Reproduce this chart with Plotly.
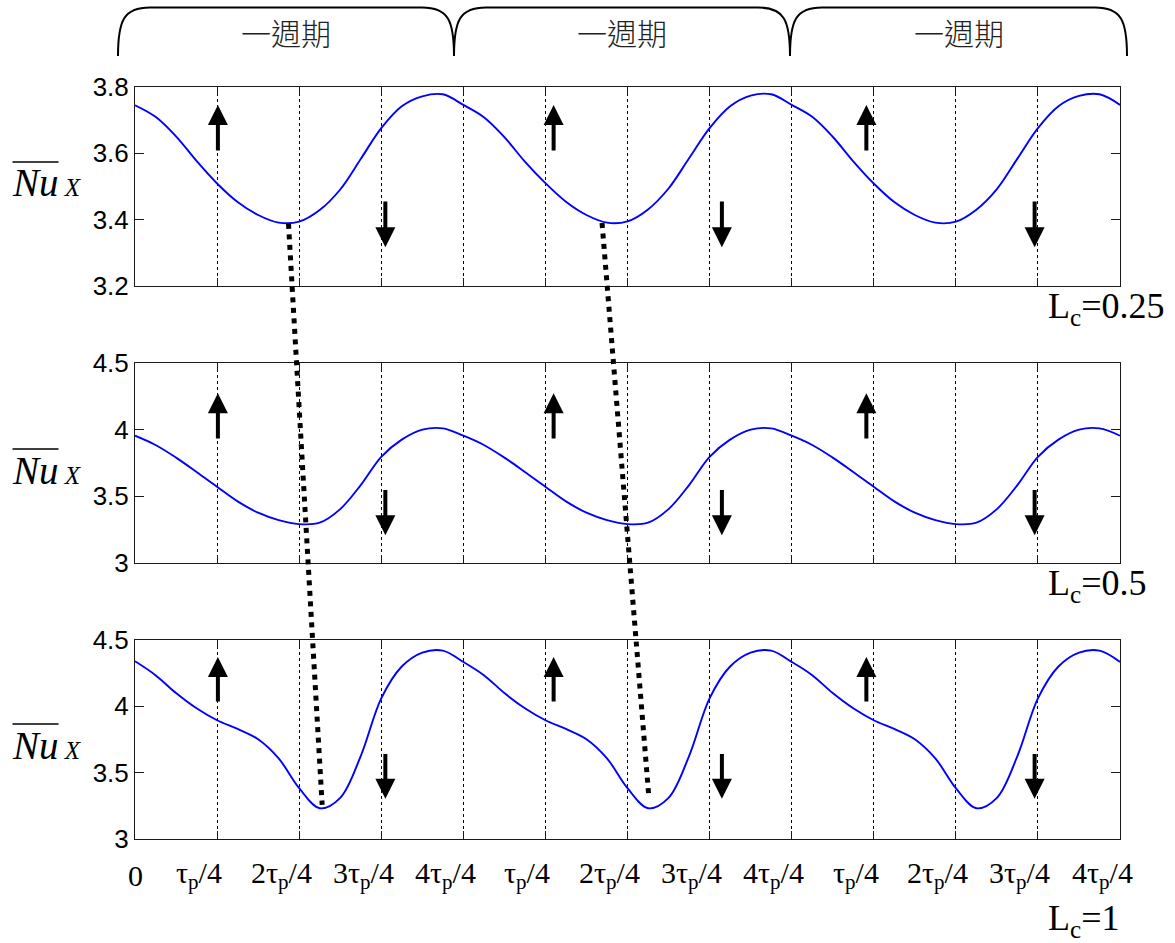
import plotly.graph_objects as go

# ---------------- data ----------------
X = [0.0, 0.25, 0.5, 0.75, 1.0, 1.25, 1.5, 1.75, 2.0, 2.25, 2.5, 2.75, 3.0, 3.25, 3.5, 3.75,
     4.0, 4.25, 4.5, 4.75, 5.0, 5.25, 5.5, 5.75, 6.0, 6.25, 6.5, 6.75, 7.0, 7.25, 7.5, 7.75,
     8.0, 8.25, 8.5, 8.75, 9.0, 9.25, 9.5, 9.75, 10.0, 10.25, 10.5, 10.75, 11.0, 11.25, 11.5, 11.75,
     12.0]

NU_LC025 = [3.745, 3.710, 3.651, 3.577, 3.509, 3.453, 3.414, 3.391, 3.394, 3.429, 3.491, 3.583, 3.676, 3.742, 3.772, 3.778,
            3.746, 3.709, 3.649, 3.575, 3.510, 3.454, 3.414, 3.391, 3.395, 3.431, 3.494, 3.585, 3.676, 3.742, 3.774, 3.778,
            3.746, 3.710, 3.650, 3.576, 3.509, 3.453, 3.414, 3.391, 3.394, 3.430, 3.492, 3.584, 3.676, 3.742, 3.773, 3.778,
            3.746]

NU_LC05 = [3.955, 3.885, 3.790, 3.682, 3.570, 3.460, 3.375, 3.319, 3.289, 3.300, 3.402, 3.583, 3.796, 3.925, 4.000, 4.010,
           3.955, 3.885, 3.790, 3.682, 3.570, 3.460, 3.375, 3.319, 3.289, 3.300, 3.402, 3.583, 3.796, 3.925, 4.000, 4.010,
           3.955, 3.885, 3.790, 3.682, 3.570, 3.460, 3.375, 3.319, 3.289, 3.300, 3.402, 3.583, 3.796, 3.925, 4.000, 4.010,
           3.955]

NU_LC1 = [4.340, 4.235, 4.100, 3.985, 3.895, 3.830, 3.752, 3.608, 3.383, 3.232, 3.310, 3.625, 4.060, 4.300, 4.405, 4.420,
          4.335, 4.235, 4.100, 3.985, 3.895, 3.830, 3.752, 3.608, 3.383, 3.232, 3.310, 3.625, 4.060, 4.300, 4.405, 4.420,
          4.335, 4.235, 4.100, 3.985, 3.895, 3.830, 3.752, 3.608, 3.383, 3.232, 3.310, 3.625, 4.060, 4.300, 4.405, 4.420,
          4.335]

SERIES = [NU_LC025, NU_LC05, NU_LC1]
LC_LABELS = ["L<sub>c</sub>=0.25", "L<sub>c</sub>=0.5", "L<sub>c</sub>=1"]
Y_RANGES = [[3.2, 3.8], [3.0, 4.5], [3.0, 4.5]]
Y_TICKS = [[3.2, 3.4, 3.6, 3.8], [3, 3.5, 4, 4.5], [3, 3.5, 4, 4.5]]

X_TICK_POS = [0, 1, 2, 3, 4, 5, 6, 7, 8, 9, 10, 11, 12]
X_TICK_TEXT = ["0",
               "τ<sub>p</sub>/4", "2τ<sub>p</sub>/4", "3τ<sub>p</sub>/4", "4τ<sub>p</sub>/4",
               "τ<sub>p</sub>/4", "2τ<sub>p</sub>/4", "3τ<sub>p</sub>/4", "4τ<sub>p</sub>/4",
               "τ<sub>p</sub>/4", "2τ<sub>p</sub>/4", "3τ<sub>p</sub>/4", "4τ<sub>p</sub>/4"]
PERIOD_LABEL = "一週期"

# arrow annotations (x positions, tail/tip values per panel)
ARROW_UP_X = [1.01, 5.10, 8.91]
ARROW_DOWN_X = [3.05, 7.15, 10.96]
ARROW_UP_Y = [(3.604, 3.746), (3.922, 4.274), (4.026, 4.372)]
ARROW_DOWN_Y = [(3.459, 3.317), (3.558, 3.206), (3.652, 3.303)]

# dotted connectors: (x, value) in top panel -> (x, value) in bottom panel
CONNECTORS = [((1.87, 3.387), (2.28, 3.258)), ((5.69, 3.390), (6.26, 3.318))]

# ---------------- layout geometry ----------------
W, H = 1175, 943
ML, MR, MT, MB = 135, 55, 87, 104
PW, PH = W - ML - MR, H - MT - MB


def pxx(px):
    return (px - ML) / PW


def pxy(py):
    return (H - MB - py) / PH


DOMAINS = [[pxy(286.0), pxy(87.0)], [pxy(562.5), pxy(363.3)], [pxy(839.0), pxy(640.0)]]


def val2paper(v, panel):
    d = DOMAINS[panel]
    r = Y_RANGES[panel]
    return d[0] + (v - r[0]) / (r[1] - r[0]) * (d[1] - d[0])


fig = go.Figure()
LINE_C = "#1a1a1a"

for i, vals in enumerate(SERIES):
    sfx = "" if i == 0 else str(i + 1)
    fig.add_trace(go.Scatter(
        x=X, y=vals, mode="lines", xaxis="x" + sfx, yaxis="y" + sfx,
        line=dict(color="#0000ff", width=1.9, shape="spline", smoothing=1.0),
        showlegend=False, hoverinfo="skip"))
    fig.layout["xaxis" + sfx] = dict(
        domain=[0, 1], anchor="y" + sfx, range=[0, 12], tickvals=X_TICK_POS,
        showticklabels=False, ticks="inside", ticklen=8, tickcolor=LINE_C,
        showline=True, linecolor=LINE_C, linewidth=1, mirror="ticks",
        showgrid=True, gridcolor="#000000", gridwidth=1, griddash="3px,3px",
        zeroline=False, fixedrange=True)
    fig.layout["yaxis" + sfx] = dict(
        domain=DOMAINS[i], anchor="x" + sfx, range=Y_RANGES[i], tickvals=Y_TICKS[i],
        ticks="inside", ticklen=9, tickcolor=LINE_C,
        showline=True, linecolor=LINE_C, linewidth=1, mirror="ticks",
        showgrid=False, zeroline=False,
        tickfont=dict(family="Liberation Sans, Arial", size=26, color="#000000"))

annotations = []
shapes = []

# x tick labels below the bottom panel
for pos, txt in zip(X_TICK_POS, X_TICK_TEXT):
    annotations.append(dict(
        x=pos, xref="x3", y=pxy(875), yref="paper", text=txt, showarrow=False,
        xanchor="center", yanchor="middle", xshift=(0 if pos == 0 else -18),
        font=dict(family="Liberation Serif, Times New Roman", size=30, color="#000000")))

# Lc labels
LC_Y_PX = [308, 585, 920]
for lab, ypx in zip(LC_LABELS, LC_Y_PX):
    annotations.append(dict(
        x=pxx(1046), xref="paper", y=pxy(ypx), yref="paper", text=lab, showarrow=False,
        xanchor="left", yanchor="middle",
        font=dict(family="Liberation Serif, Times New Roman", size=36, color="#000000")))

# Nu_X labels with overline
NU_BASE_PX = [197, 484, 759]
for b in NU_BASE_PX:
    annotations.append(dict(
        x=pxx(10), xref="paper", y=pxy(b - 14), yref="paper",
        text="<i>Nu</i><span style='font-size:25px'>&nbsp;<i>X</i></span>",
        showarrow=False, xanchor="left", yanchor="middle",
        font=dict(family="Liberation Serif, Times New Roman", size=39, color="#000000")))
    shapes.append(dict(type="line", xref="paper", yref="paper",
                       x0=pxx(12.5), x1=pxx(58.5), y0=pxy(b - 35), y1=pxy(b - 35),
                       line=dict(color="#000000", width=1.6)))

# arrows
for i in range(3):
    sfx = "" if i == 0 else str(i + 1)
    for xa in ARROW_UP_X:
        tail, tip = ARROW_UP_Y[i]
        annotations.append(dict(x=xa, y=tip, ax=xa, ay=tail, xref="x" + sfx, yref="y" + sfx,
                                axref="x" + sfx, ayref="y" + sfx, text="", showarrow=True,
                                arrowhead=2, arrowsize=1.0, arrowwidth=4, arrowcolor="#000000",
                                standoff=0))
    for xa in ARROW_DOWN_X:
        tail, tip = ARROW_DOWN_Y[i]
        annotations.append(dict(x=xa, y=tip, ax=xa, ay=tail, xref="x" + sfx, yref="y" + sfx,
                                axref="x" + sfx, ayref="y" + sfx, text="", showarrow=True,
                                arrowhead=2, arrowsize=1.0, arrowwidth=4, arrowcolor="#000000",
                                standoff=0))

# dotted connectors across panels
for (x0, v0), (x1, v1) in CONNECTORS:
    shapes.append(dict(type="line", xref="x3", yref="paper",
                       x0=x0, y0=val2paper(v0, 0), x1=x1, y1=val2paper(v1, 2),
                       line=dict(color="#000000", width=5, dash="5px,5.5px"), layer="above"))

# braces "一週期"
BRACE_EDGES_PX = [118, 454, 790, 1127]
YB, YT = 56, 7.5
for a, b in zip(BRACE_EDGES_PX[:-1], BRACE_EDGES_PX[1:]):
    pts = [("M", a, YB), ("C", a, 20), ("", a + 6, YT), ("", a + 32, YT),
           ("L", b - 32, YT), ("C", b - 6, YT), ("", b, 20), ("", b, YB)]
    path = " ".join(f"{c}{pxx(px):.5f},{pxy(py):.5f}" for c, px, py in pts)
    shapes.append(dict(type="path", xref="paper", yref="paper", path=path,
                       line=dict(color="#000000", width=2)))
    annotations.append(dict(x=pxx((a + b) / 2), xref="paper", y=pxy(32), yref="paper",
                            text=PERIOD_LABEL, showarrow=False, xanchor="center", yanchor="middle",
                            font=dict(family="Noto Sans CJK TC, Noto Sans CJK SC", size=30,
                                      color="#222222", weight=300)))

fig.update_layout(
    width=W, height=H,
    margin=dict(l=ML, r=MR, t=MT, b=MB, pad=0),
    paper_bgcolor="#ffffff", plot_bgcolor="#ffffff",
    showlegend=False,
    annotations=annotations, shapes=shapes,
)

fig.write_html("out.html")
